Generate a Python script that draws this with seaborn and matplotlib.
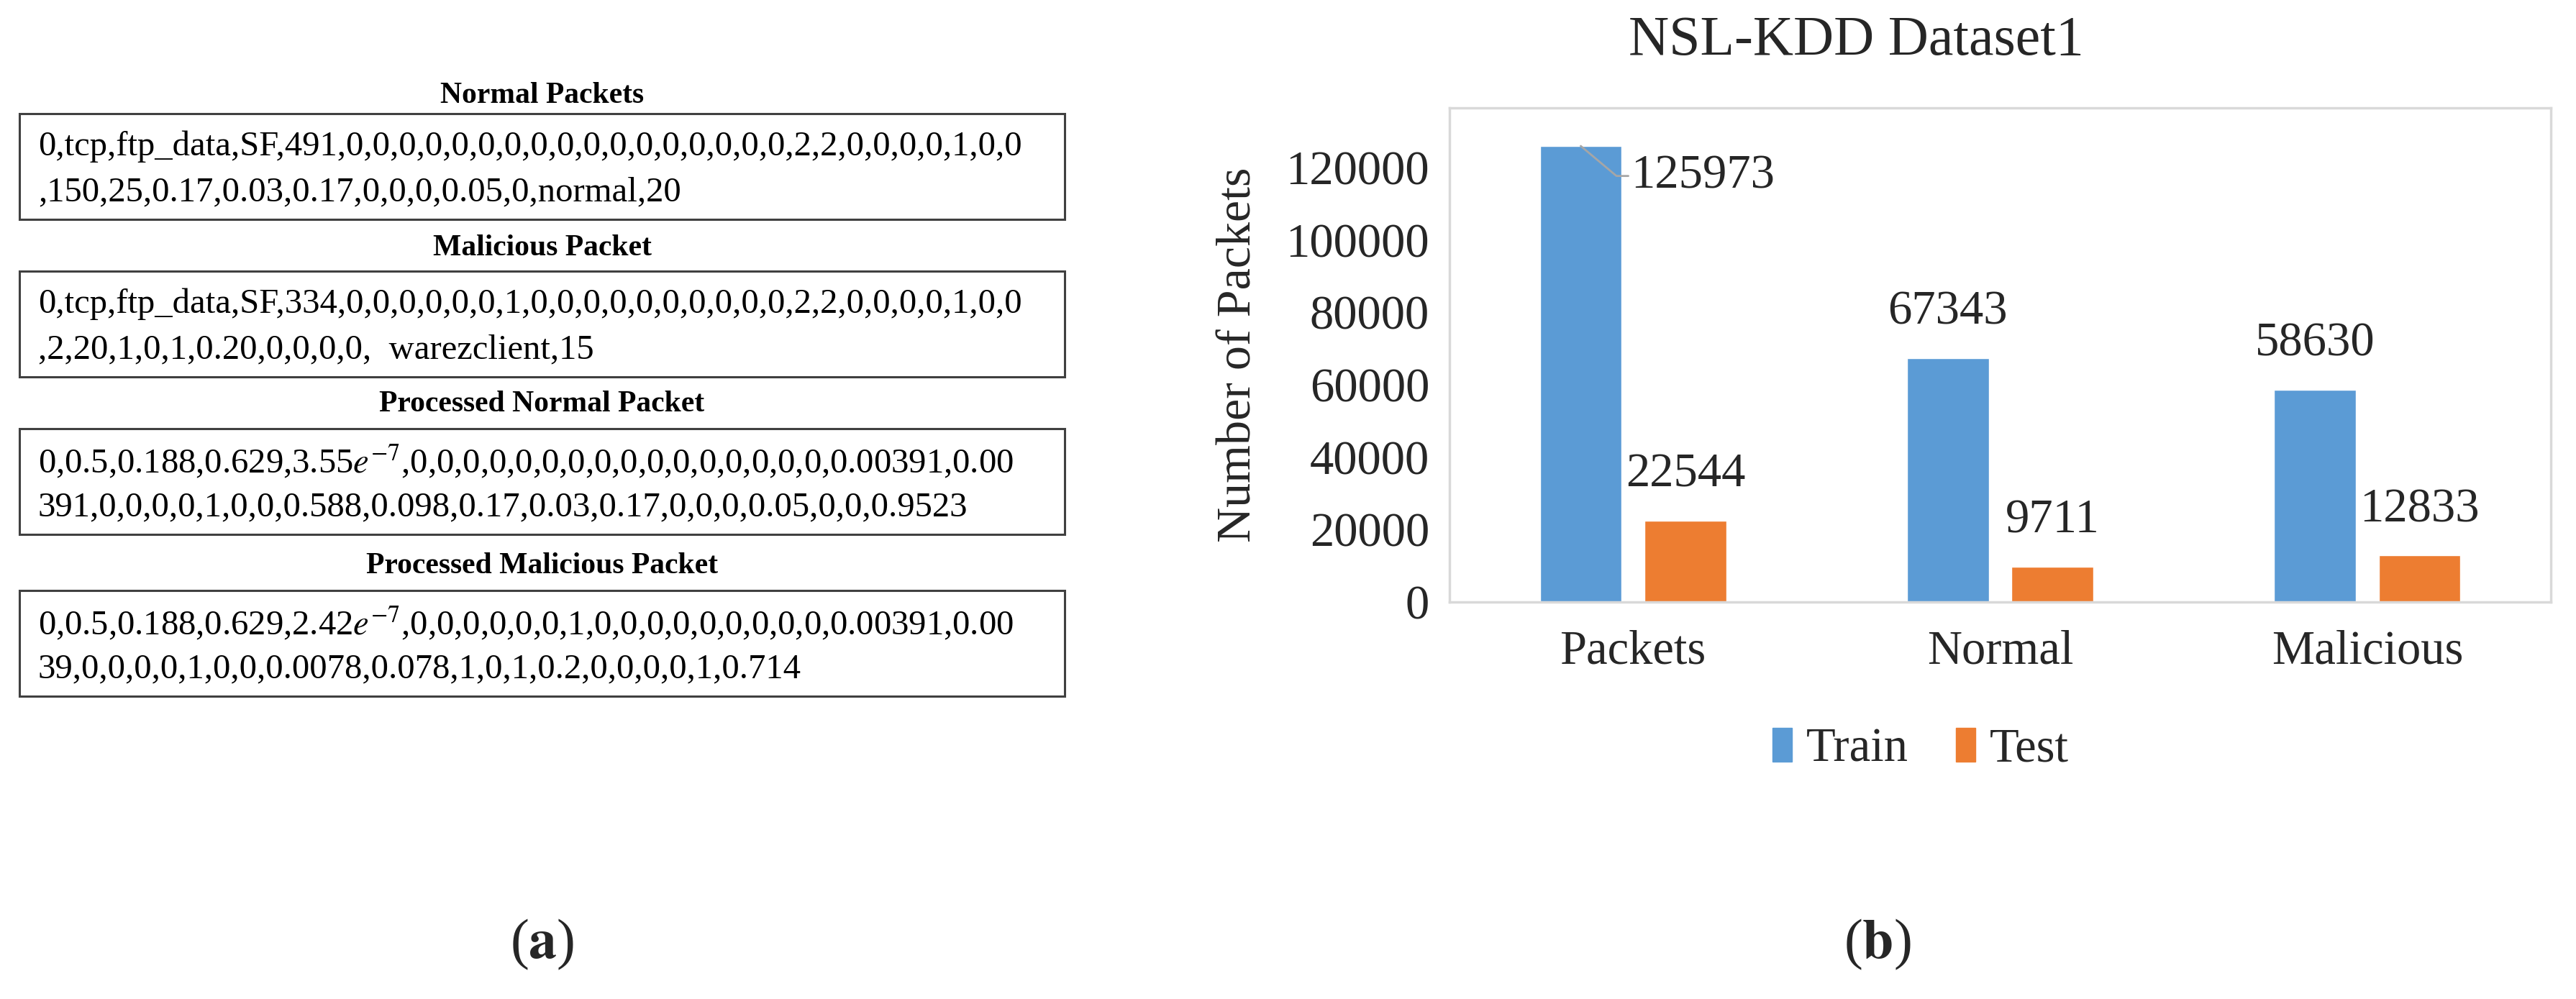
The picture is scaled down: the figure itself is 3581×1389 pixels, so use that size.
import pandas as pd
import matplotlib.pyplot as plt
import seaborn as sns
from matplotlib.patches import Rectangle

# --- DATA ---
categories = ["Packets", "Normal", "Malicious"]
train_counts = [125973, 67343, 58630]
test_counts = [22544, 9711, 12833]
series_names = ["Train", "Test"]
y_ticks = [0, 20000, 40000, 60000, 80000, 100000, 120000]

box_titles = ["Normal Packets", "Malicious Packet",
              "Processed Normal Packet", "Processed Malicious Packet"]
box_lines = [
    ["0,tcp,ftp_data,SF,491,0,0,0,0,0,0,0,0,0,0,0,0,0,0,0,0,0,2,2,0,0,0,0,1,0,0",
     ",150,25,0.17,0.03,0.17,0,0,0,0.05,0,normal,20"],
    ["0,tcp,ftp_data,SF,334,0,0,0,0,0,0,1,0,0,0,0,0,0,0,0,0,0,2,2,0,0,0,0,1,0,0",
     ",2,20,1,0,1,0.20,0,0,0,0,  warezclient,15"],
    [r"0,0.5,0.188,0.629,3.55$e^{-7}$,0,0,0,0,0,0,0,0,0,0,0,0,0,0,0,0,0.00391,0.00",
     "391,0,0,0,0,1,0,0,0.588,0.098,0.17,0.03,0.17,0,0,0,0.05,0,0,0.9523"],
    [r"0,0.5,0.188,0.629,2.42$e^{-7}$,0,0,0,0,0,0,1,0,0,0,0,0,0,0,0,0,0.00391,0.00",
     "39,0,0,0,0,1,0,0,0.0078,0.078,1,0,1,0.2,0,0,0,0,1,0.714"],
]

# --- STYLE ---
W, H = 3581, 1389
sns.set_theme(style="white")
plt.rcParams["font.family"] = "serif"
plt.rcParams["font.serif"] = ["Liberation Serif", "STIXGeneral", "DejaVu Serif"]
plt.rcParams["mathtext.fontset"] = "stix"
TRAIN_COLOR = "#5B9BD5"
TEST_COLOR = "#ED7D31"

fig = plt.figure(figsize=(W / 100, H / 100), dpi=100)

# --- (a) text boxes, pixel coordinates ---
axl = fig.add_axes([0, 0, 0.45, 1])
axl.set_xlim(0, 0.45 * W)
axl.set_ylim(H, 0)
axl.axis("off")

box_left, box_right = 27, 1480
box_tops = [158, 377, 596, 821]
box_h = 147
title_y = [133, 345, 562, 787]
for title, lines, top, ty in zip(box_titles, box_lines, box_tops, title_y):
    axl.add_patch(Rectangle((box_left, top), box_right - box_left, box_h,
                            fill=False, edgecolor="#404040", linewidth=2.2))
    axl.text((box_left + box_right) / 2, ty, title, ha="center", va="center",
             fontsize=30, fontweight="bold", color="black")
    for i, line in enumerate(lines):
        axl.text(53, top + 46 + i * 63, line, ha="left", va="center",
                 fontsize=35, color="black")

fig.text(754 / W, 1 - 1313 / H, r"($\mathbf{a}$)", ha="center", va="center", fontsize=56)
fig.text(2610 / W, 1 - 1313 / H, r"($\mathbf{b}$)", ha="center", va="center", fontsize=56)

# --- (b) bar chart ---
df = pd.DataFrame({
    "category": categories * 2,
    "set": [series_names[0]] * 3 + [series_names[1]] * 3,
    "count": train_counts + test_counts,
})

ax = fig.add_axes([2015 / W, 1 - 837 / H, (3546 - 2015) / W, (837 - 150) / H])
sns.barplot(data=df, x="category", y="count", hue="set", order=categories,
            hue_order=series_names, palette=[TRAIN_COLOR, TEST_COLOR],
            width=0.57, gap=0.22, saturation=1, ax=ax, legend=True)
ax.set_xlim(-0.5, 2.5)
ax.set_ylim(0, 136500)
ax.set_yticks(y_ticks)
ax.set_yticklabels([str(t) for t in y_ticks])
ax.tick_params(axis="both", length=0, labelsize=48, pad=20)
ax.tick_params(axis="x", pad=28)
ax.set_xlabel("")
ax.set_ylabel("Number of Packets", fontsize=49, labelpad=25)
for s in ax.spines.values():
    s.set_visible(True)
    s.set_color("#d9d9d9")
    s.set_linewidth(2.5)

# data labels
for container in ax.containers:
    for bar in container:
        v = bar.get_height()
        cx = bar.get_x() + bar.get_width() / 2
        if v > 120000:
            ax.annotate(f"{int(v)}", xy=(cx, v), xytext=(50, -30), textcoords="offset points",
                        ha="left", va="center", fontsize=48,
                        arrowprops=dict(arrowstyle="-", color="#a6a6a6", lw=2,
                                        shrinkA=0, shrinkB=0, relpos=(0, 0.5),
                                        connectionstyle="angle,angleA=0,angleB=-40,rad=0"))
        else:
            ax.annotate(f"{int(v)}", xy=(cx, v), xytext=(0, 46), textcoords="offset points",
                        ha="center", va="center", fontsize=48)

ax.legend_.remove()
handles = [Rectangle((0, 0), 1, 1, color=TRAIN_COLOR), Rectangle((0, 0), 1, 1, color=TEST_COLOR)]
fig.legend(handles, series_names, loc="center", bbox_to_anchor=(2670 / W, 1 - 1042 / H),
           ncol=2, frameon=False, fontsize=48, handlelength=0.4, handleheight=0.7,
           handletextpad=0.3, columnspacing=1.0)

fig.text(2580 / W, 1 - 57 / H, "NSL-KDD Dataset1", ha="center", va="center", fontsize=56)

fig.savefig("out.png", dpi=100)
